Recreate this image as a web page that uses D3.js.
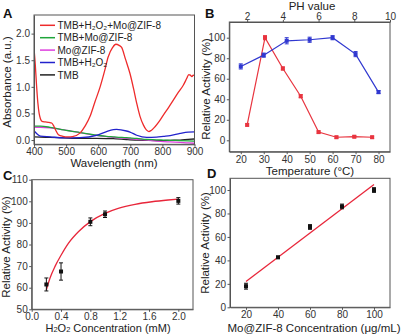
<!DOCTYPE html>
<html>
<head>
<meta charset="utf-8">
<script src="https://cdn.jsdelivr.net/npm/d3@7"></script>
<style>
  body { margin: 0; background: #fff; }
  text { font-family: "Liberation Sans", Arial, sans-serif; }
  .tick text { font-size: 10px; fill: #333; }
  .tick line, .domain { stroke: #555; }
</style>
</head>
<body>
<svg id="fig" width="401" height="335"></svg>
<script>
// ---- panel A: absorbance spectra ----
var specNames = ["TMB+H₂O₂+Mo@ZIF-8", "TMB+Mo@ZIF-8", "Mo@ZIF-8", "TMB+H₂O₂", "TMB"];
var specColors = ["#ee2b2b", "#1fa53a", "#de3fde", "#2222cc", "#222222"];
var redWl  = [400,404,408,412,416,420,425,435,447,455,462,468,476,490,505,520,543,560,575,590,606,620,631,645,655,665,673,685,699,710,720,730,741,750,758,765,777,790,803,820,834,850,865,876,882,887,892,896,900];
var redAbs = [1.72,1.42,1.02,0.7,0.5,0.4,0.35,0.34,0.33,0.32,0.26,0.18,0.1,0.07,0.06,0.065,0.13,0.27,0.45,0.72,1.0,1.3,1.56,1.74,1.8,1.78,1.74,1.52,1.25,0.97,0.69,0.45,0.28,0.19,0.16,0.18,0.25,0.35,0.47,0.62,0.75,0.9,1.03,1.16,1.23,1.22,1.19,1.22,1.21];
var baseWl = [400,420,450,493,543,595,626,647,657,688,699,720,751,782,803,824,855,880,900];
var greenAbs   = [0.26,0.26,0.24,0.19,0.14,0.09,0.07,0.06,0.055,0.045,0.04,0.03,0.01,0.005,0.0,-0.005,-0.01,-0.015,-0.02];
var magentaAbs = [0.24,0.24,0.23,0.19,0.14,0.09,0.065,0.05,0.045,0.03,0.025,0.015,0.0,-0.02,-0.03,-0.035,-0.045,-0.055,-0.06];
var blueAbs    = [0.175,0.075,0.06,0.04,0.045,0.09,0.16,0.195,0.2,0.17,0.15,0.09,0.05,0.055,0.07,0.085,0.125,0.15,0.155];
var blackAbs   = [0.06,0.055,0.05,0.04,0.03,0.03,0.028,0.025,0.022,0.01,0.005,0.0,-0.005,-0.01,-0.01,-0.005,0.0,0.012,0.02];

// ---- panel B: pH and temperature ----
var phVals = [2,3,4,5,6,7,8,9];
var phAct  = [15,100,70,43,8,3,3.5,3];
var phErr  = [1,2,1.5,1.5,1,1,1,1];
var tempVals = [20,30,40,50,60,70,80];
var tempAct  = [72,83,97,98,100,84,47];
var tempErr  = [2.5,2,3,2.5,2,2.5,1.5];

// ---- panel C: H2O2 concentration ----
var h2o2Conc = [0.2,0.4,0.8,1.0,2.0];
var h2o2Act  = [61.5,67.5,90.5,94,100.2];
var h2o2Err  = [3,4,1.8,1.5,1.5];
var fitCx = [0.2,0.25,0.32,0.4,0.5,0.64,0.8,1.0,1.18,1.41,1.64,1.86,2.0];
var fitCy = [59,64.5,70,75,80.5,86,90.6,94.4,96.7,98.6,99.8,100.6,101];

// ---- panel D: Mo@ZIF-8 concentration ----
var moConc = [20,40,60,80,100];
var moAct  = [18,42.6,68.5,86,100];
var moErr  = [2.5,1,2,2,2];
var fitDx = [20,100];
var fitDy = [22,104.8];

var svg = d3.select("#fig");

function frame(g, x, y) {
    var r = x.range(), t = y.range();
    g.append("rect")
     .attr("x", r[0]).attr("y", t[1])
     .attr("width", r[1] - r[0]).attr("height", t[0] - t[1])
     .attr("fill", "none").attr("stroke", "#555").attr("stroke-width", 1);
}

function axes(g, x, y, xt, yt, xf, yf) {
    g.append("g").attr("transform", "translate(0," + y.range()[0] + ")")
     .call(d3.axisBottom(x).tickValues(xt).tickFormat(xf).tickSize(2.5).tickPadding(1.5).tickSizeOuter(0));
    g.append("g").attr("transform", "translate(" + x.range()[0] + ",0)")
     .call(d3.axisLeft(y).tickValues(yt).tickFormat(yf).tickSize(2.5).tickPadding(1.5).tickSizeOuter(0));
}

function letter(t, x, y) {
    svg.append("text").attr("x", x).attr("y", y).text(t)
       .attr("font-size", 13).attr("font-weight", "bold").attr("fill", "#111");
}

function ylabel(t, x, y) {
    svg.append("text").attr("transform", "translate(" + x + "," + y + ") rotate(-90)")
       .attr("text-anchor", "middle").attr("font-size", 11.5).attr("fill", "#222").text(t);
}

function xlabel(t, x, y) {
    return svg.append("text").attr("x", x).attr("y", y)
       .attr("text-anchor", "middle").attr("font-size", 11.5).attr("fill", "#222").text(t);
}

function errBars(g, xs, ys, es, x, y, col) {
    xs.forEach(function(v, i) {
        var cx = x(v);
        g.append("line").attr("x1", cx).attr("x2", cx)
         .attr("y1", y(ys[i] - es[i])).attr("y2", y(ys[i] + es[i])).attr("stroke", col).attr("stroke-width", 1);
        [ys[i] - es[i], ys[i] + es[i]].forEach(function(e) {
            g.append("line").attr("x1", cx - 2).attr("x2", cx + 2)
             .attr("y1", y(e)).attr("y2", y(e)).attr("stroke", col).attr("stroke-width", 1);
        });
        g.append("rect").attr("x", cx - 2).attr("y", y(ys[i]) - 2)
         .attr("width", 4).attr("height", 4).attr("fill", col);
    });
}

// ===== A =====
var xA = d3.scaleLinear().domain([400, 900]).range([34, 194.5]);
var yA = d3.scaleLinear().domain([-0.08, 2.35]).range([144.3, 15]);
var gA = svg.append("g");
var lineA = d3.line().curve(d3.curveMonotoneX);
var specData = [
    d3.zip(redWl, redAbs),
    d3.zip(baseWl, greenAbs),
    d3.zip(baseWl, magentaAbs),
    d3.zip(baseWl, blueAbs),
    d3.zip(baseWl, blackAbs)
];
gA.append("clipPath").attr("id", "clipA").append("rect")
    .attr("x", 34).attr("y", 15).attr("width", 160.5).attr("height", 129.3);
[4, 2, 1, 3, 0].forEach(function(i) {
    gA.append("path")
      .attr("d", lineA(specData[i].map(function(d) { return [xA(d[0]), yA(d[1])]; })))
      .attr("fill", "none").attr("stroke", specColors[i]).attr("stroke-width", 1.3)
      .attr("clip-path", "url(#clipA)");
});
axes(gA, xA, yA, d3.range(400, 901, 100), [0, 0.5, 1, 1.5, 2], d3.format("d"), d3.format(".1f"));
frame(gA, xA, yA);
specNames.forEach(function(n, i) {
    var yy = 25.3 + i * 12.4;
    gA.append("line").attr("x1", 40).attr("x2", 55).attr("y1", yy).attr("y2", yy)
      .attr("stroke", specColors[i]).attr("stroke-width", 1.5);
    gA.append("text").attr("x", 57.5).attr("y", yy + 3.6).attr("font-size", 10)
      .attr("fill", "#222").text(n);
});
letter("A", 3, 18);
ylabel("Absorbance (a.u.)", 10.5, 82);
xlabel("Wavelength (nm)", 114, 167);

// ===== B =====
var xB = d3.scaleLinear().domain([15, 85]).range([229.3, 390]);
var xPH = d3.scaleLinear().domain([1, 10]).range([229.3, 390]);
var yB = d3.scaleLinear().domain([-11.1, 115.3]).range([151.7, 22]);
var gB = svg.append("g");
axes(gB, xB, yB, d3.range(20, 81, 10), d3.range(0, 101, 20), d3.format("d"), d3.format("d"));
gB.append("g").attr("transform", "translate(0,22)")
  .call(d3.axisTop(xPH).tickValues([2, 4, 6, 8, 10]).tickSize(2).tickPadding(0.5).tickSizeOuter(0));
frame(gB, xB, yB);
var lineB = d3.line();
gB.append("path").attr("d", lineB(phVals.map(function(v, i) { return [xPH(v), yB(phAct[i])]; })))
  .attr("fill", "none").attr("stroke", "#e8343f").attr("stroke-width", 1.2);
errBars(gB, phVals, phAct, phErr, xPH, yB, "#e8343f");
gB.append("path").attr("d", lineB(tempVals.map(function(v, i) { return [xB(v), yB(tempAct[i])]; })))
  .attr("fill", "none").attr("stroke", "#3038d0").attr("stroke-width", 1.2);
errBars(gB, tempVals, tempAct, tempErr, xB, yB, "#3038d0");
letter("B", 205, 18);
ylabel("Relative Activity (%)", 209.5, 89);
xlabel("PH value", 312, 10);
xlabel("Temperature (°C)", 310, 174.5);

// ===== C =====
var xC = d3.scaleLinear().domain([0, 2.2]).range([31.7, 193]);
var yC = d3.scaleLinear().domain([50, 110]).range([309.3, 179.7]);
var gC = svg.append("g");
axes(gC, xC, yC, [0, 0.4, 0.8, 1.2, 1.6, 2.0], d3.range(50, 111, 10), d3.format(".1f"), d3.format("d"));
frame(gC, xC, yC);
gC.append("path")
  .attr("d", d3.line().curve(d3.curveMonotoneX)(fitCx.map(function(v, i) { return [xC(v), yC(fitCy[i])]; })))
  .attr("fill", "none").attr("stroke", "#e8263a").attr("stroke-width", 1.3);
errBars(gC, h2o2Conc, h2o2Act, h2o2Err, xC, yC, "#111");
letter("C", 3, 180);
ylabel("Relative Activity (%)", 9.5, 247);
var lc = xlabel("", 108, 332).attr("font-size", 11);
lc.append("tspan").text("H");
lc.append("tspan").attr("font-size", 7.5).text("2");
lc.append("tspan").text("O");
lc.append("tspan").attr("font-size", 7.5).text("2");
lc.append("tspan").text(" Concentration (mM)");

// ===== D =====
var xD = d3.scaleLinear().domain([10, 110]).range([230, 390]);
var yD = d3.scaleLinear().domain([0, 110]).range([307.3, 178.3]);
var gD = svg.append("g");
axes(gD, xD, yD, d3.range(20, 101, 20), d3.range(0, 101, 20), d3.format("d"), d3.format("d"));
frame(gD, xD, yD);
gD.append("path")
  .attr("d", d3.line()(fitDx.map(function(v, i) { return [xD(v), yD(fitDy[i])]; })))
  .attr("fill", "none").attr("stroke", "#e8263a").attr("stroke-width", 1.3);
errBars(gD, moConc, moAct, moErr, xD, yD, "#111");
letter("D", 207, 178);
ylabel("Relative Activity (%)", 209, 243);
xlabel("Mo@ZIF-8 Concentration (μg/mL)", 314, 332);
</script>
</body>
</html>
